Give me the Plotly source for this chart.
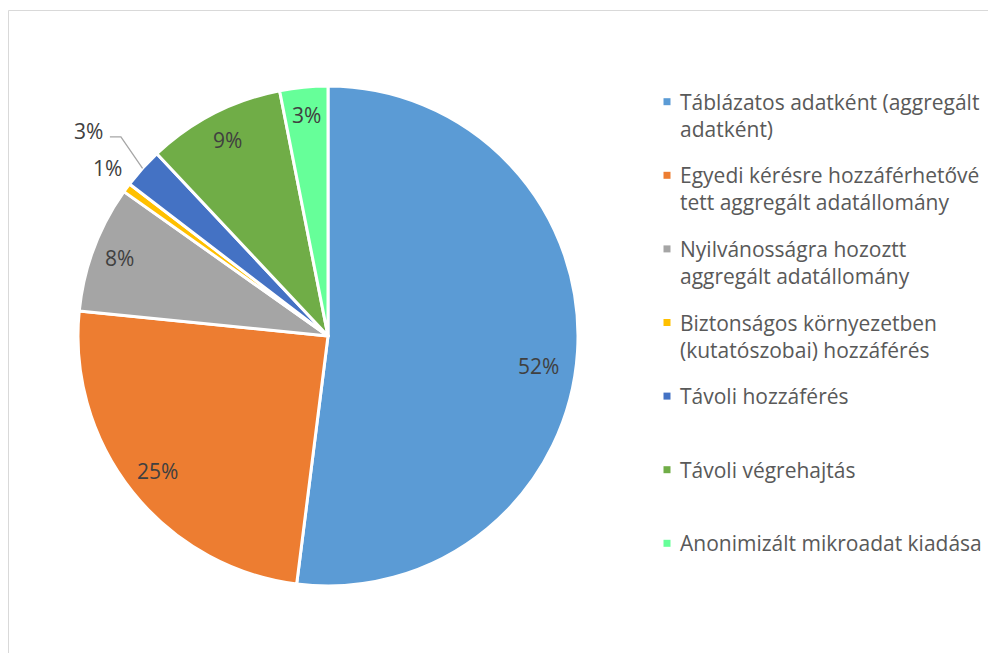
import math
import plotly.graph_objects as go

# ---- data ----
categories = [
    "Táblázatos adatként (aggregált adatként)",
    "Egyedi kérésre hozzáférhetővé tett aggregált adatállomány",
    "Nyilvánosságra hozoztt aggregált adatállomány",
    "Biztonságos környezetben (kutatószobai) hozzáférés",
    "Távoli hozzáférés",
    "Távoli végrehajtás",
    "Anonimizált mikroadat kiadása",
]
legend_lines = [
    ["Táblázatos adatként (aggregált", "adatként)"],
    ["Egyedi kérésre hozzáférhetővé", "tett aggregált adatállomány"],
    ["Nyilvánosságra hozoztt", "aggregált adatállomány"],
    ["Biztonságos környezetben", "(kutatószobai) hozzáférés"],
    ["Távoli hozzáférés"],
    ["Távoli végrehajtás"],
    ["Anonimizált mikroadat kiadása"],
]
values = [52.0, 24.6, 8.2, 0.6, 2.6, 8.9, 3.1]
colors = ["#5B9BD5", "#ED7D31", "#A5A5A5", "#FFC000", "#4472C4", "#70AD47", "#66FF99"]

# ---- layout geometry (window pixels) ----
W, H = 988, 653
OFF = 0                      # body margin removed by post_script
cx, cy, R = 328, 336, 250
FONT = "Open Sans"
FS = 21
LINE_H = 1.3 * FS


def px2paper(x, y):
    return (x - OFF) / W, 1 - (y - OFF) / H


fig = go.Figure(
    go.Pie(
        labels=categories,
        values=values,
        sort=False,
        direction="clockwise",
        rotation=0,
        marker=dict(colors=colors, line=dict(color="white", width=3)),
        textinfo="none",
        hoverinfo="label+percent",
        showlegend=False,
        domain=dict(
            x=[(cx - R - OFF) / W, (cx + R - OFF) / W],
            y=[1 - (cy + R - OFF) / H, 1 - (cy - R - OFF) / H],
        ),
    )
)

# ---- data labels computed from values ----
total = sum(values)
radius_factor = [0.85, 0.87, 0.89, 1.11, 1.26, 0.88, 0.89]
angle_shift = [4.5, 0, 0, 0.9, -1.5, 0, 0]   # degrees, label nudges
annotations = []
shapes = []
cum = 0.0
for i, v in enumerate(values):
    mid = (cum + v / 2) / total
    cum += v
    th = 2 * math.pi * mid + math.radians(angle_shift[i])
    r = R * radius_factor[i]
    lx = cx + r * math.sin(th)
    ly = cy - r * math.cos(th)
    ax_, ay_ = px2paper(lx, ly)
    annotations.append(dict(
        x=ax_, y=ay_, xref="paper", yref="paper",
        text=f"{round(v / total * 100)}%", showarrow=False,
        font=dict(family=FONT, size=FS, color="#404040"),
        xanchor="center", yanchor="middle",
    ))
    if radius_factor[i] > 1.2:
        thm = 2 * math.pi * mid
        ex = cx + R * math.sin(thm)
        ey = cy - R * math.cos(thm)
        p0 = px2paper(lx + 21, ly + 6)
        p1 = px2paper(lx + 32, ly + 6)
        p2 = px2paper(ex, ey)
        shapes.append(dict(
            type="path", xref="paper", yref="paper",
            path=f"M {p0[0]},{p0[1]} L {p1[0]},{p1[1]} L {p2[0]},{p2[1]}",
            line=dict(color="#A6A6A6", width=1.3),
        ))

# ---- legend (squares + text) ----
LEG_SQ_X = 667
LEG_TXT_X = 678
LEG_Y0 = 101.7
LEG_STEP = 73.6
SQ = 7
for i, lines in enumerate(legend_lines):
    yc = LEG_Y0 + LEG_STEP * i
    a0 = px2paper(LEG_SQ_X - SQ / 2, yc - SQ / 2)
    a1 = px2paper(LEG_SQ_X + SQ / 2, yc + SQ / 2)
    shapes.append(dict(
        type="rect", xref="paper", yref="paper",
        x0=a0[0], y0=a1[1], x1=a1[0], y1=a0[1],
        fillcolor=colors[i], line=dict(width=0),
    ))
    tx, ty = px2paper(LEG_TXT_X, yc + (len(lines) - 1) * LINE_H / 2)
    annotations.append(dict(
        x=tx, y=ty, xref="paper", yref="paper",
        text="<br>".join(lines), showarrow=False, align="left",
        font=dict(family=FONT, size=FS, color="#595959"),
        xanchor="left", yanchor="middle",
    ))

# chart frame
f0 = px2paper(8.5, 10.5)
shapes.append(dict(
    type="rect", xref="paper", yref="paper",
    x0=f0[0], y0=-0.2, x1=1.2, y1=f0[1],
    line=dict(color="#D9D9D9", width=1), layer="below",
))

fig.update_layout(
    width=W, height=H,
    margin=dict(l=0, r=0, t=0, b=0),
    paper_bgcolor="white", plot_bgcolor="white",
    font=dict(family=FONT, color="#595959"),
    annotations=annotations,
    shapes=shapes,
)

fig.write_html(
    "out.html",
    config={"displayModeBar": False},
    post_script="document.body.style.margin='0px';document.body.style.overflow='hidden';",
)
